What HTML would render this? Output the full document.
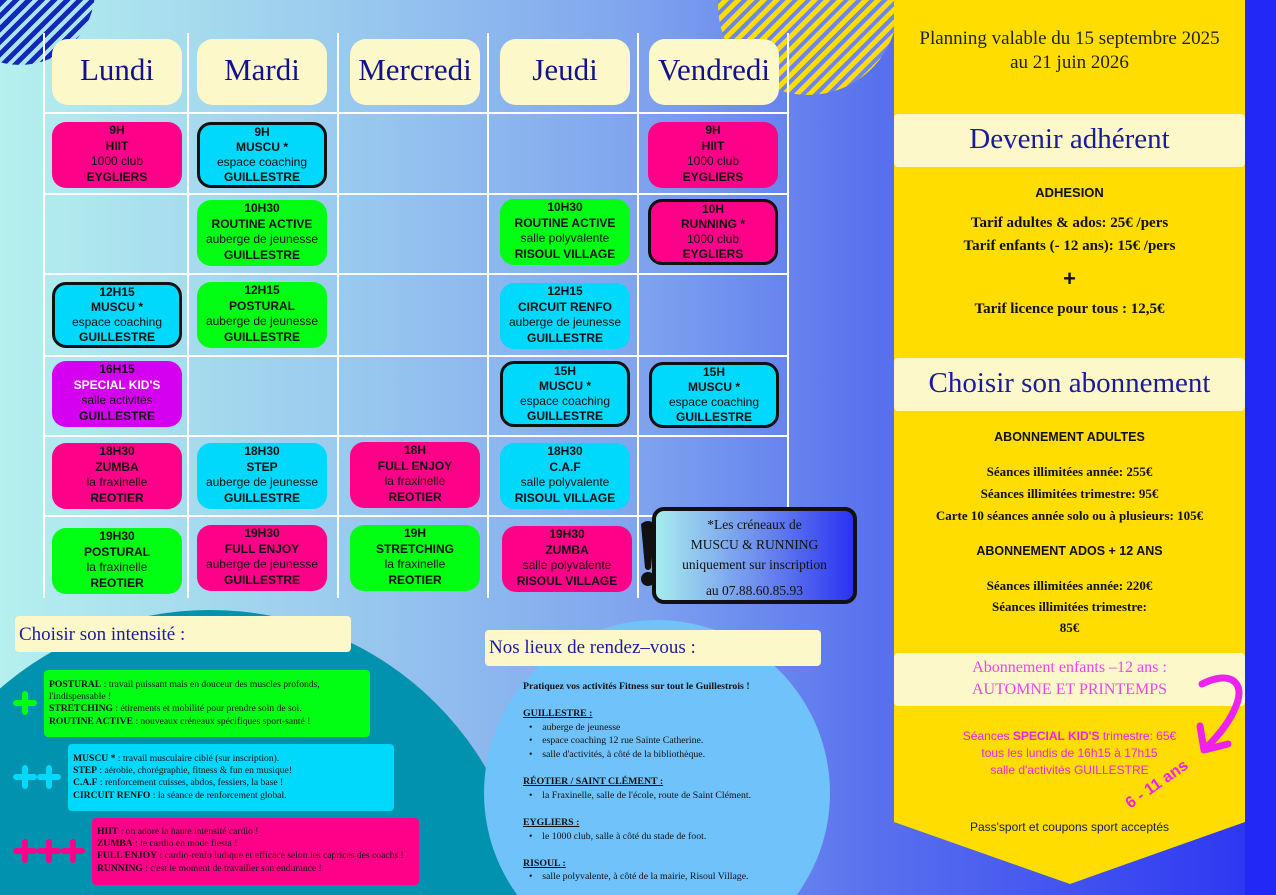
<!DOCTYPE html>
<html style="width:1276px;height:895px;overflow:hidden"><head><meta charset="utf-8">
<style>
*{margin:0;padding:0;box-sizing:border-box}
html,body{width:1276px;height:895px;overflow:hidden}
body{position:relative;font-family:"Liberation Sans",sans-serif;
background:linear-gradient(90deg,#b5f0ee 0%,#9ccdee 25%,#7fa4ee 50%,#5a72ee 68%,#2a33f2 100%)}
#w{position:absolute;left:0;top:0;width:1276px;height:895px;overflow:hidden}
.a{position:absolute}
.vl{position:absolute;top:33px;width:2px;height:565px;background:#fff}
.hl{position:absolute;left:43px;width:745px;height:2px;background:#fff}
.hd{position:absolute;top:39px;width:130px;height:66px;background:#fdf8c9;border-radius:16px;color:#12128f;font-family:"Liberation Serif",serif;font-size:31px;text-align:center;line-height:62px}
.b{position:absolute;width:130px;height:66px;border-radius:14px;text-align:center;font-size:12px;line-height:15.5px;color:#111;padding-top:1px}
.b b{font-weight:bold}
.pk{background:#ff0088}.cy{background:#00d8fc}.gr{background:#00ff12}.mg{background:#d600f0}
.bd{border:3px solid #111;line-height:15px;padding-top:0}
.cream{position:absolute;background:#fdf8c9;border-radius:4px}
.leg{position:absolute;border-radius:4px;font-family:"Liberation Serif",serif;font-size:9.6px;line-height:12.2px;color:#111;padding-left:5px}
.y{color:#111;font-family:"Liberation Serif",serif;text-align:center;font-weight:bold}
</style></head><body><div id="w">

<div class="a" style="left:-55px;top:-85px;width:150px;height:150px;border-radius:50%;background:repeating-linear-gradient(135deg,#1327b8 0 5px,#a9e6ef 5px 9px)"></div>
<div class="a" style="left:718px;top:-85px;width:180px;height:180px;border-radius:50%;background:repeating-linear-gradient(135deg,#ffdd00 0 5px,#6d86ee 5px 9px)"></div>

<div class="vl" style="left:43px"></div><div class="vl" style="left:187px"></div><div class="vl" style="left:337px"></div>
<div class="vl" style="left:487px"></div><div class="vl" style="left:637px"></div><div class="vl" style="left:787px"></div>
<div class="hl" style="top:112px"></div><div class="hl" style="top:193px"></div><div class="hl" style="top:273px"></div>
<div class="hl" style="top:355px"></div><div class="hl" style="top:435px"></div><div class="hl" style="top:515px"></div>

<div class="hd" style="left:52px">Lundi</div>
<div class="hd" style="left:197px">Mardi</div>
<div class="hd" style="left:350px">Mercredi</div>
<div class="hd" style="left:500px">Jeudi</div>
<div class="hd" style="left:649px">Vendredi</div>

<div class="b pk" style="left:52px;top:122px"><b>9H<br>HIIT</b><br>1000 club<br><b>EYGLIERS</b></div>
<div class="b cy bd" style="left:197px;top:122px"><b>9H<br>MUSCU *</b><br>espace coaching<br><b>GUILLESTRE</b></div>
<div class="b pk" style="left:648px;top:122px"><b>9H<br>HIIT</b><br>1000 club<br><b>EYGLIERS</b></div>
<div class="b gr" style="left:197px;top:200px"><b>10H30<br>ROUTINE ACTIVE</b><br>auberge de jeunesse<br><b>GUILLESTRE</b></div>
<div class="b gr" style="left:500px;top:199px"><b>10H30<br>ROUTINE ACTIVE</b><br>salle polyvalente<br><b>RISOUL VILLAGE</b></div>
<div class="b pk bd" style="left:648px;top:199px"><b>10H<br>RUNNING *</b><br>1000 club<br><b>EYGLIERS</b></div>
<div class="b cy bd" style="left:52px;top:282px"><b>12H15<br>MUSCU *</b><br>espace coaching<br><b>GUILLESTRE</b></div>
<div class="b gr" style="left:197px;top:282px"><b>12H15<br>POSTURAL</b><br>auberge de jeunesse<br><b>GUILLESTRE</b></div>
<div class="b cy" style="left:500px;top:283px"><b>12H15<br>CIRCUIT RENFO</b><br>auberge de jeunesse<br><b>GUILLESTRE</b></div>
<div class="b mg" style="left:52px;top:361px"><b>16H15<br><span style="color:#fff">SPECIAL KID'S</span></b><br>salle activités<br><b>GUILLESTRE</b></div>
<div class="b cy bd" style="left:500px;top:361px"><b>15H<br>MUSCU *</b><br>espace coaching<br><b>GUILLESTRE</b></div>
<div class="b cy bd" style="left:649px;top:362px"><b>15H<br>MUSCU *</b><br>espace coaching<br><b>GUILLESTRE</b></div>
<div class="b pk" style="left:52px;top:443px"><b>18H30<br>ZUMBA</b><br>la fraxinelle<br><b>REOTIER</b></div>
<div class="b cy" style="left:197px;top:443px"><b>18H30<br>STEP</b><br>auberge de jeunesse<br><b>GUILLESTRE</b></div>
<div class="b pk" style="left:350px;top:442px"><b>18H<br>FULL ENJOY</b><br>la fraxinelle<br><b>REOTIER</b></div>
<div class="b cy" style="left:500px;top:443px"><b>18H30<br>C.A.F</b><br>salle polyvalente<br><b>RISOUL VILLAGE</b></div>
<div class="b gr" style="left:52px;top:528px"><b>19H30<br>POSTURAL</b><br>la fraxinelle<br><b>REOTIER</b></div>
<div class="b pk" style="left:197px;top:525px"><b>19H30<br>FULL ENJOY</b><br>auberge de jeunesse<br><b>GUILLESTRE</b></div>
<div class="b gr" style="left:350px;top:525px"><b>19H<br>STRETCHING</b><br>la fraxinelle<br><b>REOTIER</b></div>
<div class="b pk" style="left:502px;top:526px"><b>19H30<br>ZUMBA</b><br>salle polyvalente<br><b>RISOUL VILLAGE</b></div>

<div class="a" style="left:652px;top:507px;width:205px;height:97px;border:4px solid #111;border-radius:12px;background:linear-gradient(90deg,#a6ecee,#6b88ee 55%,#2a33f2);text-align:center;font-family:'Liberation Serif',serif;font-size:13.5px;line-height:20px;color:#111;padding-top:4px">*Les créneaux de<br>MUSCU &amp; RUNNING<br>uniquement sur inscription<br><div style="margin-top:6px">au 07.88.60.85.93</div></div>
<svg class="a" style="left:636px;top:518px" width="30" height="75"><path d="M5,6 Q12,0 19,6 L15,50 Q12,54 9,50 Z" fill="#111"/><circle cx="12" cy="61" r="7" fill="#111"/></svg>

<div class="a" style="left:-110px;top:610px;width:640px;height:640px;border-radius:50%;background:#0092ae"></div>
<div class="cream" style="left:15px;top:616px;width:336px;height:36px;font-family:'Liberation Serif',serif;color:#1a1aa0;font-size:19px;line-height:38px;padding-left:4px">Choisir son intensité :</div>
<div class="leg" style="left:44px;top:670px;width:326px;height:67px;background:#00ff12;padding-top:9px">
<b>POSTURAL</b> : travail puissant mais en douceur des muscles profonds,<br>l'indispensable !<br><b>STRETCHING</b> : étirements et mobilité pour prendre soin de soi.<br><b>ROUTINE ACTIVE</b> : nouveaux créneaux spécifiques sport-santé !</div>
<div class="leg" style="left:68px;top:744px;width:326px;height:67px;background:#00d8fc;padding-top:9px">
<b>MUSCU *</b> : travail musculaire ciblé (sur inscription).<br><b>STEP</b> : aérobie, chorégraphie, fitness &amp; fun en musique!<br><b>C.A.F</b> : renforcement cuisses, abdos, fessiers, la base !<br><b>CIRCUIT RENFO</b> : la séance de renforcement global.</div>
<div class="leg" style="left:92px;top:818px;width:327px;height:67px;background:#ff0088;padding-top:8px">
<b>HIIT</b> :  on adore la haute intensité cardio !<br><b>ZUMBA</b> : le cardio en mode fiesta !<br><b>FULL ENJOY</b> : cardio-renfo ludique et efficace selon les caprices des coachs !<br><b>RUNNING</b> : c'est le moment de travailler son endurance !</div>
<svg class="a" style="left:0;top:680px" width="90" height="190">
<g stroke-width="6" stroke-linecap="round">
<path d="M16,23 H34 M25,14 V32" stroke="#00ff12"/>
<path d="M16,97 H34 M25,88 V106 M40,97 H58 M49,88 V106" stroke="#00d8fc"/>
<path d="M16,171 H34 M25,162 V180 M40,171 H58 M49,162 V180 M64,171 H82 M73,162 V180" stroke="#ff0088"/>
</g></svg>

<div class="a" style="left:484px;top:620px;width:346px;height:346px;border-radius:50%;background:#70c2fb"></div>
<div class="cream" style="left:485px;top:630px;width:336px;height:36px;font-family:'Liberation Serif',serif;color:#1a1aa0;font-size:19px;line-height:36px;padding-left:4px">Nos lieux de rendez–vous :</div>
<div class="a" style="left:523px;top:680px;width:300px;font-family:'Liberation Serif',serif;font-size:9.8px;line-height:13.6px;color:#111">
<b>Pratiquez vos activités Fitness sur tout le Guillestrois !</b><br><br>
<b><u>GUILLESTRE :</u></b><br>
<div style="padding-left:6px">•&nbsp;&nbsp;&nbsp; auberge de jeunesse<br>•&nbsp;&nbsp;&nbsp; espace coaching 12 rue Sainte Catherine.<br>•&nbsp;&nbsp;&nbsp; salle d'activités, à côté de la bibliothèque.</div><br>
<b><u>RÉOTIER / SAINT CLÉMENT :</u></b><br>
<div style="padding-left:6px">•&nbsp;&nbsp;&nbsp; la Fraxinelle, salle de l'école, route de Saint Clément.</div><br>
<b><u>EYGLIERS :</u></b><br>
<div style="padding-left:6px">•&nbsp;&nbsp;&nbsp; le 1000 club, salle à côté du stade de foot.</div><br>
<b><u>RISOUL :</u></b><br>
<div style="padding-left:6px">•&nbsp;&nbsp;&nbsp; salle polyvalente, à côté de la mairie, Risoul Village.</div>
</div>

<div class="a" style="left:1245px;top:0;width:31px;height:895px;background:#2228f5"></div>
<svg class="a" style="left:894px;top:0" width="352" height="895"><polygon points="0,0 351,0 351,822 176,884 0,822" fill="#ffdd00"/></svg>
<div class="a" style="left:894px;top:27px;width:351px;text-align:center;font-family:'Liberation Serif',serif;font-size:19px;line-height:24px;color:#222">Planning valable du 15 septembre 2025<br>au 21 juin 2026</div>
<div class="cream" style="left:894px;top:114px;width:351px;height:53px;text-align:center;font-family:'Liberation Serif',serif;color:#1a1aa0;font-size:29px;line-height:50px">Devenir adhérent</div>
<div class="a y" style="left:894px;top:185px;width:351px;font-family:'Liberation Sans',sans-serif;font-size:13px">ADHESION</div>
<div class="a y" style="left:894px;top:212px;width:351px;font-size:15px;line-height:23px">Tarif adultes &amp; ados: 25€ /pers<br>Tarif enfants (- 12 ans): 15€ /pers</div>
<div class="a y" style="left:894px;top:266px;width:351px;font-size:22px;font-family:'Liberation Sans',sans-serif">+</div>
<div class="a y" style="left:894px;top:301px;width:351px;font-size:15px">Tarif licence pour tous : 12,5€</div>
<div class="cream" style="left:894px;top:358px;width:351px;height:53px;text-align:center;font-family:'Liberation Serif',serif;color:#1a1aa0;font-size:29px;line-height:50px">Choisir son abonnement</div>
<div class="a y" style="left:894px;top:430px;width:351px;font-family:'Liberation Sans',sans-serif;font-size:12.5px">ABONNEMENT ADULTES</div>
<div class="a y" style="left:894px;top:461px;width:351px;font-size:13px;line-height:22px">Séances illimitées année: 255€<br>Séances illimitées trimestre: 95€<br>Carte 10 séances année solo ou à plusieurs: 105€</div>
<div class="a y" style="left:894px;top:544px;width:351px;font-family:'Liberation Sans',sans-serif;font-size:12.5px">ABONNEMENT ADOS + 12 ANS</div>
<div class="a y" style="left:894px;top:575px;width:351px;font-size:13px;line-height:21px">Séances illimitées année: 220€<br>Séances illimitées trimestre:<br>85€</div>
<div class="cream" style="left:894px;top:653px;width:351px;height:53px;text-align:center;font-family:'Liberation Serif',serif;color:#ee44ee;font-size:16px;line-height:22px;padding-top:4px">Abonnement enfants  –12 ans :<br>AUTOMNE ET PRINTEMPS</div>
<div class="a" style="left:894px;top:728px;width:351px;text-align:center;font-size:12px;line-height:17px;color:#ee22ee">Séances <b>SPECIAL KID'S</b> trimestre: 65€<br>tous les lundis de 16h15 à 17h15<br>salle d'activités GUILLESTRE</div>
<div class="a" style="left:1133px;top:795px;font-size:16px;font-weight:bold;color:#ee22ee;transform:rotate(-35deg);transform-origin:left bottom;white-space:nowrap">6 - 11 ans</div>
<svg class="a" style="left:1190px;top:668px" width="60" height="95"><path d="M12,16 C40,2 56,14 46,38 C40,54 28,68 16,80" stroke="#ee22ee" stroke-width="7" fill="none" stroke-linecap="round"/><path d="M10,58 L14,82 L38,76" stroke="#ee22ee" stroke-width="7" fill="none" stroke-linecap="round" stroke-linejoin="round"/></svg>
<div class="a" style="left:894px;top:820px;width:351px;text-align:center;font-size:12px;color:#1a1a60">Pass'sport et coupons sport acceptés</div>
</div></body></html>
